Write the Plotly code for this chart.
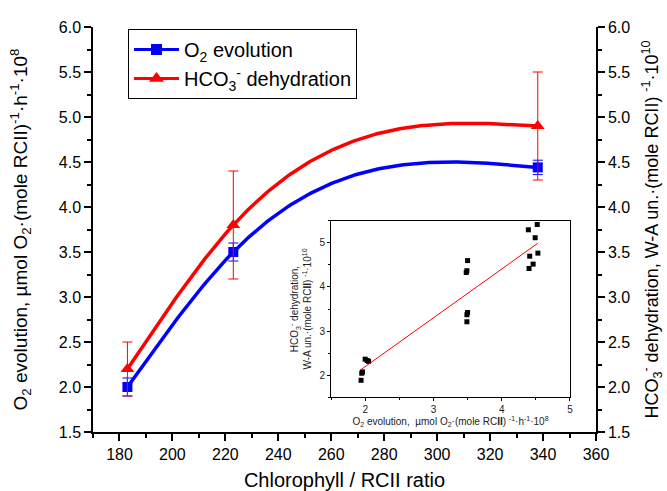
import numpy as np
import plotly.graph_objects as go

# ---------------- data ----------------
chl_ratio = [183, 223, 338]
o2_evol = [2.0, 3.5, 4.44]
o2_err = [0.1, 0.1, 0.08]
hco3_dehyd = [2.2, 3.8, 4.9]
hco3_err = [0.3, 0.6, 0.6]

inset_o2 = [1.94, 1.95, 1.96, 2.00, 2.03, 2.05,
            3.50, 3.49, 3.48, 3.50, 3.49, 3.49,
            4.39, 4.52, 4.49, 4.53, 4.41, 4.46, 4.40]
inset_hco3 = [1.88, 2.04, 2.07, 2.36, 2.33, 2.31,
              4.60, 4.37, 4.33, 3.42, 3.37, 3.21,
              5.30, 5.42, 5.12, 4.77, 4.70, 4.52, 4.42]

x_ticks = [180, 200, 220, 240, 260, 280, 300, 320, 340, 360]
y_ticks = [1.5, 2.0, 2.5, 3.0, 3.5, 4.0, 4.5, 5.0, 5.5, 6.0]


def natural_spline(x, y, n=200):
    """Natural cubic spline connector through the data points (as in the original plot)."""
    x = np.asarray(x, float)
    y = np.asarray(y, float)
    k = len(x)
    h = np.diff(x)
    A = np.zeros((k, k))
    r = np.zeros(k)
    A[0, 0] = A[-1, -1] = 1.0
    for i in range(1, k - 1):
        A[i, i - 1] = h[i - 1]
        A[i, i] = 2 * (h[i - 1] + h[i])
        A[i, i + 1] = h[i]
        r[i] = 6 * ((y[i + 1] - y[i]) / h[i] - (y[i] - y[i - 1]) / h[i - 1])
    M = np.linalg.solve(A, r)
    xs = np.linspace(x[0], x[-1], n)
    ys = np.empty_like(xs)
    for j, xv in enumerate(xs):
        i = min(np.searchsorted(x, xv, side="right") - 1, k - 2)
        t = xv - x[i]
        b = (y[i + 1] - y[i]) / h[i] - h[i] * (2 * M[i] + M[i + 1]) / 6
        ys[j] = y[i] + b * t + M[i] / 2 * t ** 2 + (M[i + 1] - M[i]) / (6 * h[i]) * t ** 3
    return xs, ys


BLUE = "#0000ff"
RED = "#ff0000"
FONT = "Arial, Liberation Sans, sans-serif"

fig = go.Figure()

# ---- main curves ----
bx, by = natural_spline(chl_ratio, o2_evol)
rx, ry = natural_spline(chl_ratio, hco3_dehyd)

fig.add_trace(go.Scatter(x=bx, y=by, mode="lines", line=dict(color=BLUE, width=3.5),
                         showlegend=False, hoverinfo="skip"))
fig.add_trace(go.Scatter(x=rx, y=ry, mode="lines", line=dict(color=RED, width=3.5),
                         showlegend=False, hoverinfo="skip", yaxis="y2"))

fig.add_trace(go.Scatter(x=chl_ratio, y=o2_evol, mode="markers",
                         marker=dict(symbol="square", size=10, color=BLUE),
                         error_y=dict(type="data", array=o2_err, color=BLUE, thickness=1, width=5),
                         showlegend=False))
fig.add_trace(go.Scatter(x=chl_ratio, y=hco3_dehyd, mode="markers", yaxis="y2",
                         marker=dict(symbol="triangle-up", size=12, color=RED),
                         error_y=dict(type="data", array=hco3_err, color=RED, thickness=1, width=5),
                         showlegend=False))

# legend entries
fig.add_trace(go.Scatter(x=[None], y=[None], mode="lines+markers", name="O<sub>2</sub> evolution",
                         line=dict(color=BLUE, width=3),
                         marker=dict(symbol="square", size=11, color=BLUE)))
fig.add_trace(go.Scatter(x=[None], y=[None], mode="lines+markers", name="HCO<sub>3</sub><sup>-</sup> dehydration",
                         line=dict(color=RED, width=3),
                         marker=dict(symbol="triangle-up", size=13, color=RED)))

# ---- inset ----
fig.add_trace(go.Scatter(x=inset_o2, y=inset_hco3, mode="markers", xaxis="x3", yaxis="y3",
                         marker=dict(symbol="square", size=5, color="black"), showlegend=False))
coef = np.polyfit(inset_o2, inset_hco3, 1)
fit_x = np.array([min(inset_o2), max(inset_o2)])
fig.add_trace(go.Scatter(x=fit_x, y=np.polyval(coef, fit_x), mode="lines", xaxis="x3", yaxis="y3",
                         line=dict(color=RED, width=1), showlegend=False))

axis_common = dict(showline=True, linecolor="black", linewidth=1.5, ticks="outside",
                   tickcolor="black", tickwidth=1.5, ticklen=7, showgrid=False, zeroline=False,
                   automargin=False,
                   tickfont=dict(family=FONT, size=16, color="black"))

fig.update_layout(
    width=667, height=491,
    margin=dict(l=93, r=71, t=27, b=59),
    paper_bgcolor="white", plot_bgcolor="white",
    font=dict(family=FONT, color="black"),
    xaxis=dict(range=[170, 360], tickvals=x_ticks, domain=[0, 1], anchor="y",
               minor=dict(dtick=10, tick0=170, ticks="outside", ticklen=4, tickcolor="black", tickwidth=1.5),
               title=dict(text="Chlorophyll / RCII ratio", font=dict(size=20, family=FONT), standoff=16),
               **axis_common),
    yaxis=dict(range=[1.5, 6.0], tickvals=y_ticks, tickformat=".1f", anchor="x",
               minor=dict(dtick=0.25, tick0=1.5, ticks="outside", ticklen=4, tickcolor="black", tickwidth=1.5),
               title=dict(text="O<sub>2</sub> evolution, µmol O<sub>2</sub>·(mole RCII)<sup>-1</sup>·h<sup>-1</sup>·10<sup>8</sup>",
                          font=dict(size=19, family=FONT), standoff=26),
               **axis_common),
    yaxis2=dict(range=[1.5, 6.0], tickvals=y_ticks, tickformat=".1f", overlaying="y", side="right", anchor="x",
                minor=dict(dtick=0.25, tick0=1.5, ticks="outside", ticklen=4, tickcolor="black", tickwidth=1.5),
                title=dict(text="HCO<sub>3</sub><sup>-</sup> dehydration, W-A un.·(mole RCII) <sup>-1</sup>·10<sup>10</sup>",
                           font=dict(size=18, family=FONT), standoff=16),
                **axis_common),
    xaxis3=dict(domain=[0.4732, 0.9483], anchor="y3", range=[1.5, 5], tickvals=[2, 3, 4, 5],
                showline=True, mirror=True, linecolor="black", linewidth=1, ticks="outside", ticklen=3,
                tickcolor="black", showgrid=False, zeroline=False, automargin=False,
                minor=dict(dtick=0.5, tick0=1.5, ticks="outside", ticklen=2, tickcolor="black"),
                tickfont=dict(family=FONT, size=10, color="#222"),
                title=dict(text="O<sub>2</sub> evolution,  µmol O<sub>2</sub>·(mole RC<b>II</b>) <sup>-1</sup>·h<sup>-1</sup>·10<sup>8</sup>",
                           font=dict(size=10, family=FONT, color="#222"), standoff=1)),
    yaxis3=dict(domain=[0.0864, 0.521], anchor="x3", range=[1.5, 5.5], tickvals=[2, 3, 4, 5],
                showline=True, mirror=True, linecolor="black", linewidth=1, ticks="outside", ticklen=3,
                tickcolor="black", showgrid=False, zeroline=False, automargin=False,
                minor=dict(dtick=0.5, tick0=1.5, ticks="outside", ticklen=2, tickcolor="black"),
                tickfont=dict(family=FONT, size=10, color="#222"),
                title=dict(text="HCO<sub>3</sub><sup>-</sup> dehydration,<br>W-A un.·(mole RC<b>II</b>) <sup>-1</sup>·10<sup>10</sup>",
                           font=dict(size=10, family=FONT, color="#222"), standoff=5)),
    legend=dict(x=0.0696, y=0.995, xanchor="left", yanchor="top",
                bordercolor="black", borderwidth=1, bgcolor="white",
                font=dict(size=20, family=FONT), tracegroupgap=0, itemwidth=45),
)

fig.write_html("out.html")
